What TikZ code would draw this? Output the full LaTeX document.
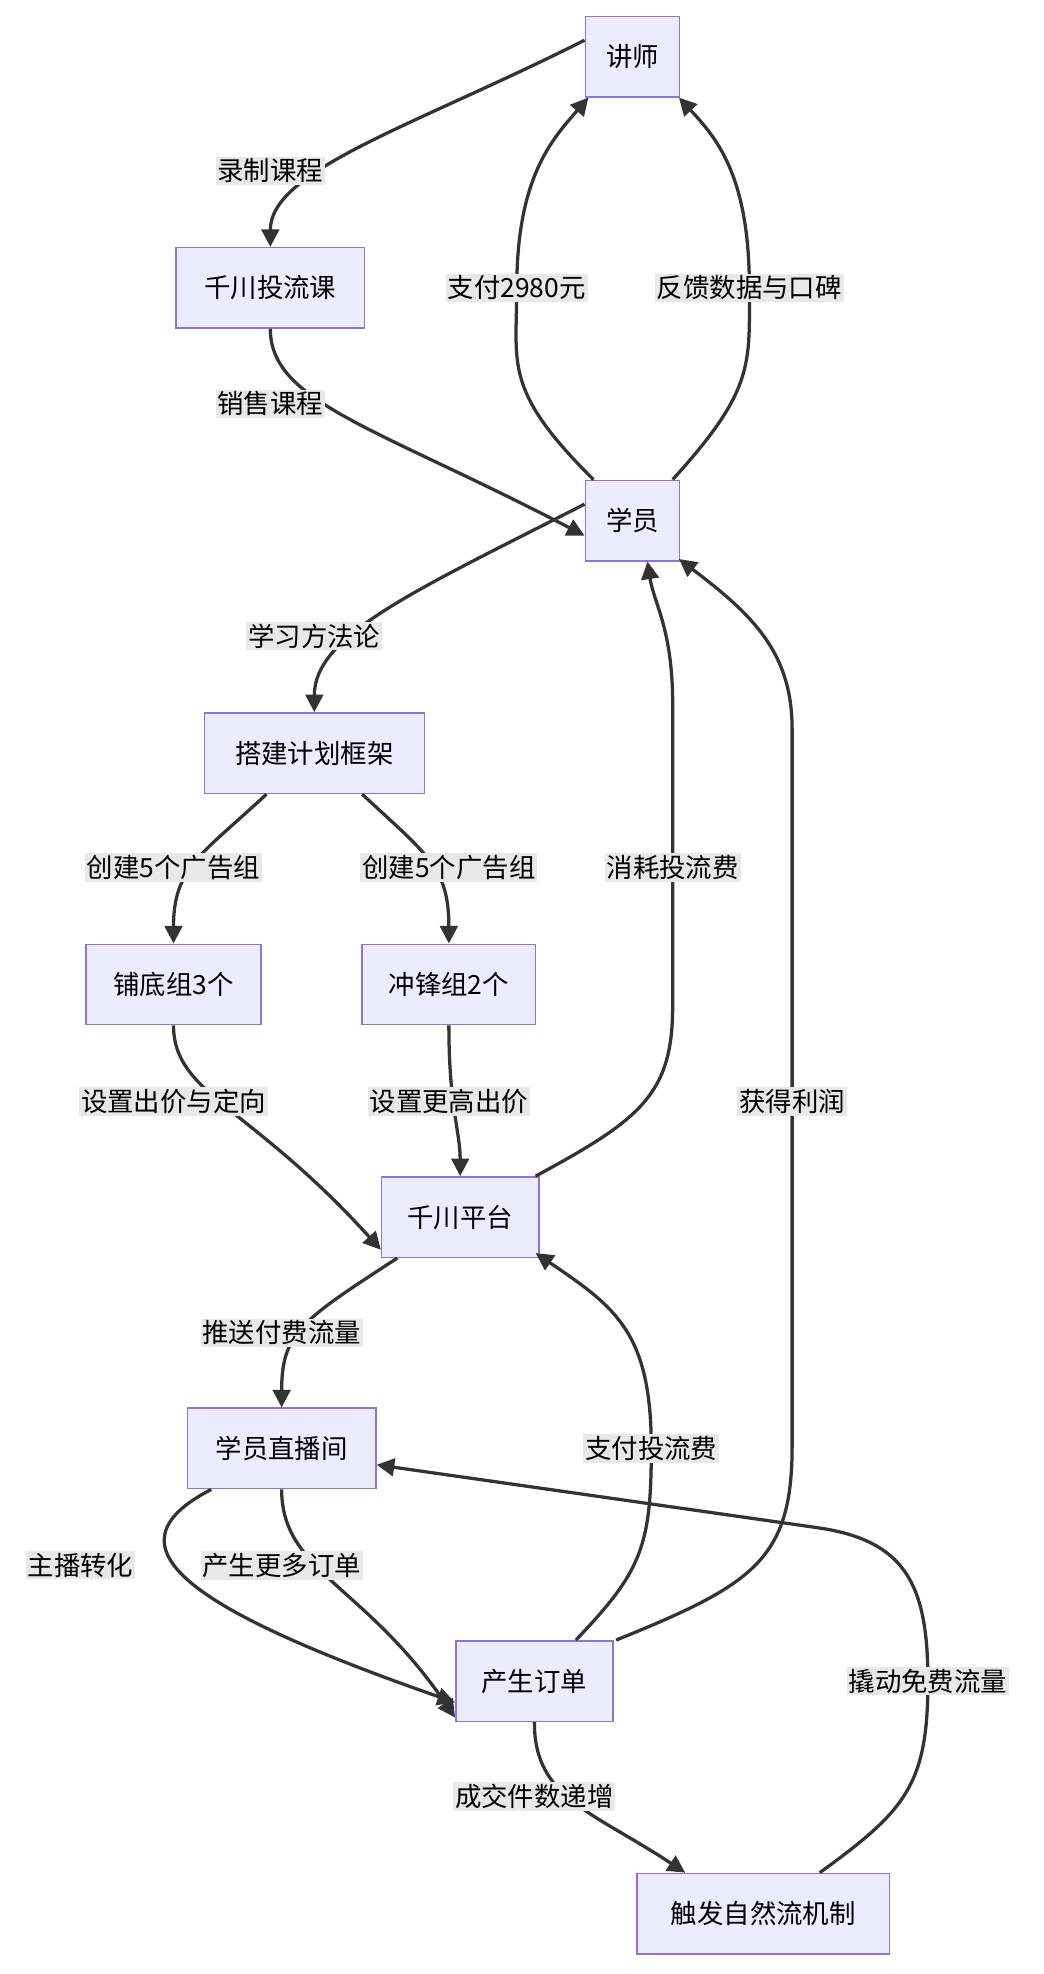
\documentclass[tikz,border=0pt]{standalone}
\usepackage{fontspec}
\setmainfont{Noto Sans CJK SC}
\usetikzlibrary{arrows.meta}
\begin{document}
\begin{tikzpicture}
   [x=1pt,y=-1pt,
    box/.style={rectangle,draw=boxline,fill=boxfill,line width=1.2pt,
      minimum height=64pt,inner xsep=14pt,font=\fontsize{21}{25}\selectfont},
    lbl/.style={fill=lblfill,inner sep=1.5pt,font=\fontsize{21}{25}\selectfont},
    link/.style={draw=linkc,line width=2.6pt,-{Triangle[length=14pt,width=14pt]}}]
\definecolor{boxfill}{HTML}{ECECFF}
\definecolor{boxline}{HTML}{9370DB}
\definecolor{lblfill}{HTML}{E8E8E8}
\definecolor{linkc}{HTML}{333333}
\useasboundingbox (0,0) rectangle (830,1570);
\node [box,minimum width=75pt] (teacher) at (503,45) {讲师};
\node [box,minimum width=150pt] (course) at (215,229) {千川投流课};
\node [box,minimum width=75pt] (student) at (503,414) {学员};
\node [box,minimum width=175pt] (plan) at (250,599) {搭建计划框架};
\node [box,minimum width=139pt] (base) at (138,783) {铺底组3个};
\node [box,minimum width=138pt] (charge) at (357,783) {冲锋组2个};
\node [box,minimum width=125pt] (platform) at (366,968) {千川平台};
\node [box,minimum width=150pt] (live) at (224,1152) {学员直播间};
\node [box,minimum width=125pt] (order) at (425,1337) {产生订单};
\node [box,minimum width=201pt] (natural) at (607,1522) {触发自然流机制};
% connectors
\draw [link] ([yshift=13pt]teacher.west) .. controls (330,100) and (215,135) .. (course.north);
\draw [link] (course.south) .. controls (215,320) and (300,340) .. ([yshift=-12pt]student.west);
\draw [link] ([xshift=-31pt]student.north) .. controls (400,310) and (411,290) .. (411,229)
   .. controls (411,140) and (440,110) .. ([xshift=-35pt]teacher.south);
\draw [link] ([xshift=32pt]student.north) .. controls (600,310) and (596,290) .. (596,229)
   .. controls (596,140) and (570,110) .. ([xshift=37pt]teacher.south);
\draw [link] ([yshift=13pt]student.west) .. controls (330,470) and (250,505) .. (plan.north);
\draw [link] ([xshift=-38pt]plan.south) .. controls (160,680) and (138,690) .. (base.north);
\draw [link] ([xshift=38pt]plan.south) .. controls (340,680) and (357,690) .. (charge.north);
\draw [link] (base.south) .. controls (138,870) and (200,880) .. ([yshift=-26pt]platform.west);
\draw [link] (charge.south) .. controls (357,880) and (366,900) .. (platform.north);
\draw [link] ([xshift=60pt]platform.north) .. controls (510,890) and (535,870) .. (535,800)
   -- (535,560) .. controls (535,500) and (520,480) .. ([xshift=12pt]student.south);
\draw [link] ([xshift=-50pt]platform.south) .. controls (240,1050) and (224,1060) .. (live.north);
\draw [link] ([xshift=-56pt]live.south) .. controls (80,1230) and (150,1280) .. ([yshift=-17pt]order.west);
\draw [link] (live.south) .. controls (224,1250) and (290,1260) .. ([yshift=-29pt]order.west);
\draw [link] ([xshift=33pt]order.north) .. controls (510,1250) and (518,1230) .. (518,1152)
   .. controls (518,1060) and (490,1040) .. ([xshift=60pt,yshift=4pt]platform.south);
\draw [link] ([xshift=65pt]order.north) .. controls (600,1260) and (630,1240) .. (630,1150)
   -- (630,580) .. controls (630,520) and (600,490) .. ([xshift=37pt,yshift=2pt]student.south);
\draw [link] (order.south) .. controls (425,1430) and (470,1440) .. ([xshift=-62pt]natural.north);
\draw [link] ([xshift=45pt]natural.north) .. controls (720,1440) and (738,1420) .. (738,1337)
   .. controls (738,1260) and (720,1225) .. (650,1215) -- ([yshift=-13pt]live.east);
% labels
\node [lbl] (l1) at (215,136) {录制课程};
\node [lbl] (l2) at (215,321) {销售课程};
\node [lbl] (l3) at (411,229) {支付2980元};
\node [lbl] (l4) at (596,229) {反馈数据与口碑};
\node [lbl] (l5) at (250,506) {学习方法论};
\node [lbl] (l6) at (138,690) {创建5个广告组};
\node [lbl] (l7) at (357,690) {创建5个广告组};
\node [lbl] (l8) at (138,876) {设置出价与定向};
\node [lbl] (l9) at (357,876) {设置更高出价};
\node [lbl] (l10) at (535,690) {消耗投流费};
\node [lbl] (l11) at (224,1060) {推送付费流量};
\node [lbl] (l12) at (64,1245) {主播转化};
\node [lbl] (l13) at (224,1245) {产生更多订单};
\node [lbl] (l14) at (518,1152) {支付投流费};
\node [lbl] (l15) at (630,876) {获得利润};
\node [lbl] (l16) at (425,1429) {成交件数递增};
\node [lbl] (l17) at (738,1337) {撬动免费流量};
\end{tikzpicture}
\end{document}
